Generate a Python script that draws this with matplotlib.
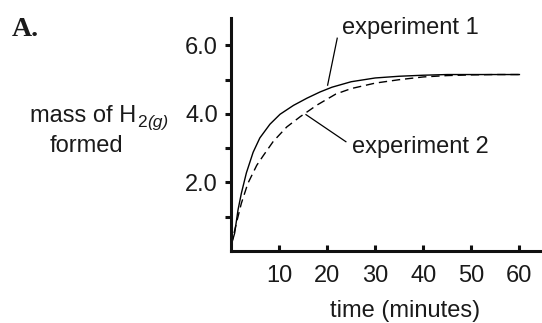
import matplotlib
matplotlib.use("Agg")
import matplotlib.pyplot as plt

plt.rcParams['font.family'] = ['Liberation Sans', 'DejaVu Sans']

# Data
t1 = [0, 0.76, 1.46, 2.15, 3.2, 4.6, 6.0, 8.1, 10.2, 13, 15.8, 18.5, 21, 25, 30, 35, 40, 45, 50, 55, 60]
y1 = [0.15, 0.52, 1.2, 1.68, 2.28, 2.88, 3.3, 3.7, 3.99, 4.25, 4.46, 4.64, 4.78, 4.94, 5.05, 5.1, 5.13, 5.15, 5.15, 5.15, 5.15]

t2 = [0, 1.1, 2.15, 3.5, 5.35, 6.7, 8.8, 11.6, 14.4, 17.9, 21.8, 25, 30, 35, 40, 45, 50, 55, 60]
y2 = [0.15, 0.8, 1.39, 1.97, 2.5, 2.78, 3.2, 3.62, 3.92, 4.26, 4.58, 4.74, 4.9, 5.0, 5.08, 5.12, 5.14, 5.15, 5.15]

xticks = [10, 20, 30, 40, 50, 60]
yticks = [1, 2, 3, 4, 5, 6]
ytick_labels = ['', '2.0', '', '4.0', '', '6.0']

TXT = '#1a1a1a'
FS = 17
W, H = 542, 323

fig = plt.figure(figsize=(W/100, H/100), dpi=100)
ax = fig.add_axes([231/W, 1 - 251/H, 1 - 231/W, (251 - 18)/H])
ax.set_xlim(0, 64.7)
ax.set_ylim(0, 6.8)

ax.plot(t1, y1, color='black', lw=1.0)
ax.plot(t2, y2, color='black', lw=1.0, dashes=(6, 3.5))

for s in ['top', 'right']:
    ax.spines[s].set_visible(False)
for s in ['left', 'bottom']:
    ax.spines[s].set_linewidth(2.2)
    ax.spines[s].set_color('#111111')

ax.set_yticks(yticks)
ax.set_yticklabels(ytick_labels)
ax.set_xticks(xticks)
ax.set_xticklabels([str(v) for v in xticks])
ax.tick_params(axis='y', direction='out', length=4, width=2.2, color='#111111',
               labelsize=FS, labelcolor=TXT, pad=5.5)
ax.tick_params(axis='x', direction='in', length=4, width=2.2, color='#111111',
               labelsize=FS, labelcolor=TXT, pad=10)

ax.set_xlabel('time (minutes)', fontsize=FS, color=TXT)
ax.xaxis.set_label_coords((405 - 231)/(542 - 231), -(311 - 251)/(251 - 18), transform=ax.transAxes)
ax.xaxis.label.set_verticalalignment('center')

fig.text(12/W, 1 - 29/H, 'A.', family='Liberation Serif', fontweight='bold',
         fontsize=20, color=TXT, ha='left', va='center')

# y label composed of pieces so the subscript matches the reference size
base_y = 122
t_main = fig.text(30/W, 1 - base_y/H, 'mass of H', fontsize=FS, color=TXT,
                  ha='left', va='baseline')
renderer = fig.canvas.get_renderer()
x_end = t_main.get_window_extent(renderer).x1
t_two = fig.text((x_end + 1)/W, 1 - (base_y + 5)/H, '2', fontsize=12.5, color=TXT,
                 ha='left', va='baseline')
x_end2 = t_two.get_window_extent(renderer).x1
fig.text((x_end2 + 0.5)/W, 1 - (base_y + 5)/H, '(g)', fontsize=12.5, style='italic',
         color=TXT, ha='left', va='baseline')
fig.text(50/W, 1 - 146/H, 'formed', fontsize=FS, color=TXT, ha='left', va='center')

# annotations
ax.plot([20.1, 22.1], [4.84, 6.21], color='black', lw=0.9)
ax.text(23.1, 6.5, 'experiment 1', fontsize=FS, color=TXT, ha='left', va='center')
ax.plot([15.6, 23.9], [3.98, 3.19], color='black', lw=0.9)
ax.text(25.1, 3.04, 'experiment 2', fontsize=FS, color=TXT, ha='left', va='center')

fig.savefig('out.png', dpi=100)
